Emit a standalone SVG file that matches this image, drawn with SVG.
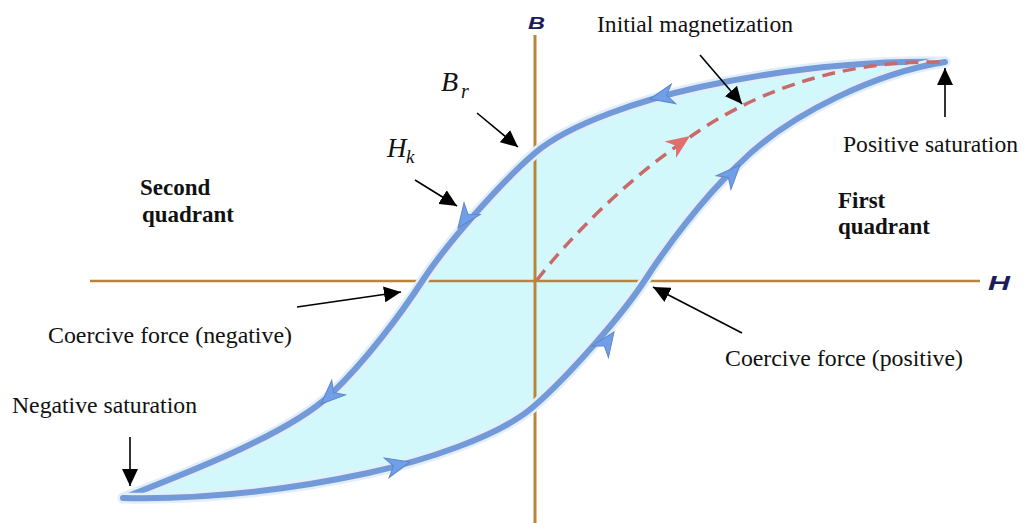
<svg xmlns="http://www.w3.org/2000/svg" width="1024" height="523" viewBox="0 0 1024 523">
  <style>
    .lbl { font-family: "Liberation Serif", "Times New Roman", serif; font-size: 23px; fill: #111; }
    .bold { font-weight: bold; }
    .math { font-family: "Liberation Serif", "Times New Roman", serif; font-style: italic; fill: #111; }
    .axl { font-family: "Liberation Sans", Arial, sans-serif; font-weight: bold; font-style: italic; fill: #1c1c5a; }
    .axis { stroke: #b8863a; fill: none; }
    .branch { fill: none; stroke: #7299d8; stroke-width: 6; stroke-linecap: round; }
    .halo { fill: none; stroke: #e2eef9; stroke-width: 11; stroke-linecap: round; }
    .barrow { fill: #6f9fe8; stroke: #5f86c8; stroke-width: 1; }
    .conn { stroke: #000; stroke-width: 1.6; fill: none; marker-end: url(#ah); }
  </style>
  <defs>
    <marker id="ah" markerUnits="userSpaceOnUse" markerWidth="18" markerHeight="16" refX="17" refY="8" orient="auto">
      <path d="M0,0 L17,8 L0,16 Z" fill="#000"/>
    </marker>
    <path id="ba" d="M0,0 L-24,-10 L-17,0 L-24,10 Z"/>
  </defs>
  <rect width="1024" height="523" fill="#fff"/>

  <g id="loop">
    <path d="M123,498 C218,500 298,488 368,473 C423,461 498,437 533,407 C568,377 623,314 645,280 C667,246 703,198 738,165 C790,112 880,72 945,62 C850,60 770,72 700,87 C645,99 570,123 535,153 C500,183 445,246 423,280 C401,314 365,362 330,395 C285,437 173,478 123,498 Z" fill="#d3f8fb"/>
  </g>

  <g id="axes">
    <line class="axis" x1="535" y1="35" x2="535" y2="523" stroke-width="3"/>
    <line class="axis" x1="90" y1="281" x2="980" y2="281" stroke-width="2.6"/>
    <text class="axl" x="528" y="29" font-size="17" textLength="17" lengthAdjust="spacingAndGlyphs">B</text>
    <text class="axl" x="988" y="290" font-size="20" textLength="22" lengthAdjust="spacingAndGlyphs">H</text>
  </g>

  <g id="upper-branch">
    <path class="halo" d="M945,62 C850,60 770,72 700,87 C645,99 570,123 535,153 C500,183 445,246 423,280 C401,314 365,362 330,395 C285,437 173,478 123,498"/>
    <path class="branch" d="M945,62 C850,60 770,72 700,87 C645,99 570,123 535,153 C500,183 445,246 423,280 C401,314 365,362 330,395 C285,437 173,478 123,498"/>
    <use href="#ba" class="barrow" transform="translate(650,99) rotate(167.6)"/>
    <use href="#ba" class="barrow" transform="translate(458,228) rotate(126)"/>
    <use href="#ba" class="barrow" transform="translate(321,404) rotate(137)"/>
  </g>

  <g id="lower-branch">
    <path class="halo" d="M123,498 C218,500 298,488 368,473 C423,461 498,437 533,407 C568,377 623,314 645,280 C667,246 703,198 738,165 C790,112 880,72 945,62"/>
    <path class="branch" d="M123,498 C218,500 298,488 368,473 C423,461 498,437 533,407 C568,377 623,314 645,280 C667,246 703,198 738,165 C790,112 880,72 945,62"/>
    <use href="#ba" class="barrow" transform="translate(410,462) rotate(-14)"/>
    <use href="#ba" class="barrow" transform="translate(614,332) rotate(-55)"/>
    <use href="#ba" class="barrow" transform="translate(740,165) rotate(-47)"/>
  </g>

  <g id="initial-magnetization-curve">
    <path d="M537,280 C565,243 625,180 690,137 C745,98 830,60 942,62" fill="none" stroke="#c86a6a" stroke-width="3.5" stroke-dasharray="13 8"/>
    <use href="#ba" fill="#de6f6c" transform="translate(690,136) rotate(-35)"/>
  </g>

  <g id="connectors">
    <line class="conn" x1="700" y1="55" x2="742" y2="104"/>
    <line class="conn" x1="477" y1="113" x2="518" y2="147"/>
    <line class="conn" x1="415" y1="180" x2="457" y2="206"/>
    <line class="conn" x1="297" y1="307" x2="401" y2="292"/>
    <line class="conn" x1="742" y1="333" x2="653" y2="287"/>
    <line class="conn" x1="945" y1="117" x2="945" y2="68"/>
    <line class="conn" x1="130" y1="437" x2="130" y2="486"/>
  </g>

  <g id="label-initial">
    <text class="lbl" x="597" y="32" textLength="196" lengthAdjust="spacingAndGlyphs">Initial magnetization</text>
  </g>
  <g id="label-br">
    <text class="math" x="441" y="91" font-size="28">B</text>
    <text class="math" x="461" y="98" font-size="20">r</text>
  </g>
  <g id="label-hk">
    <text class="math" x="387" y="157" font-size="27">H</text>
    <text class="math" x="406" y="163" font-size="19">k</text>
  </g>
  <g id="label-second">
    <text class="lbl bold" x="140" y="195">Second</text>
    <text class="lbl bold" x="142" y="222">quadrant</text>
  </g>
  <g id="label-first">
    <text class="lbl bold" x="838" y="208">First</text>
    <text class="lbl bold" x="838" y="234">quadrant</text>
  </g>
  <g id="label-pos-sat">
    <text class="lbl" x="843" y="152" textLength="175" lengthAdjust="spacingAndGlyphs">Positive saturation</text>
  </g>
  <g id="label-coercive-neg">
    <text class="lbl" x="48" y="343" textLength="244" lengthAdjust="spacingAndGlyphs">Coercive force (negative)</text>
  </g>
  <g id="label-coercive-pos">
    <text class="lbl" x="725" y="366" textLength="238" lengthAdjust="spacingAndGlyphs">Coercive force (positive)</text>
  </g>
  <g id="label-neg-sat">
    <text class="lbl" x="12" y="413" textLength="185" lengthAdjust="spacingAndGlyphs">Negative saturation</text>
  </g>
</svg>
